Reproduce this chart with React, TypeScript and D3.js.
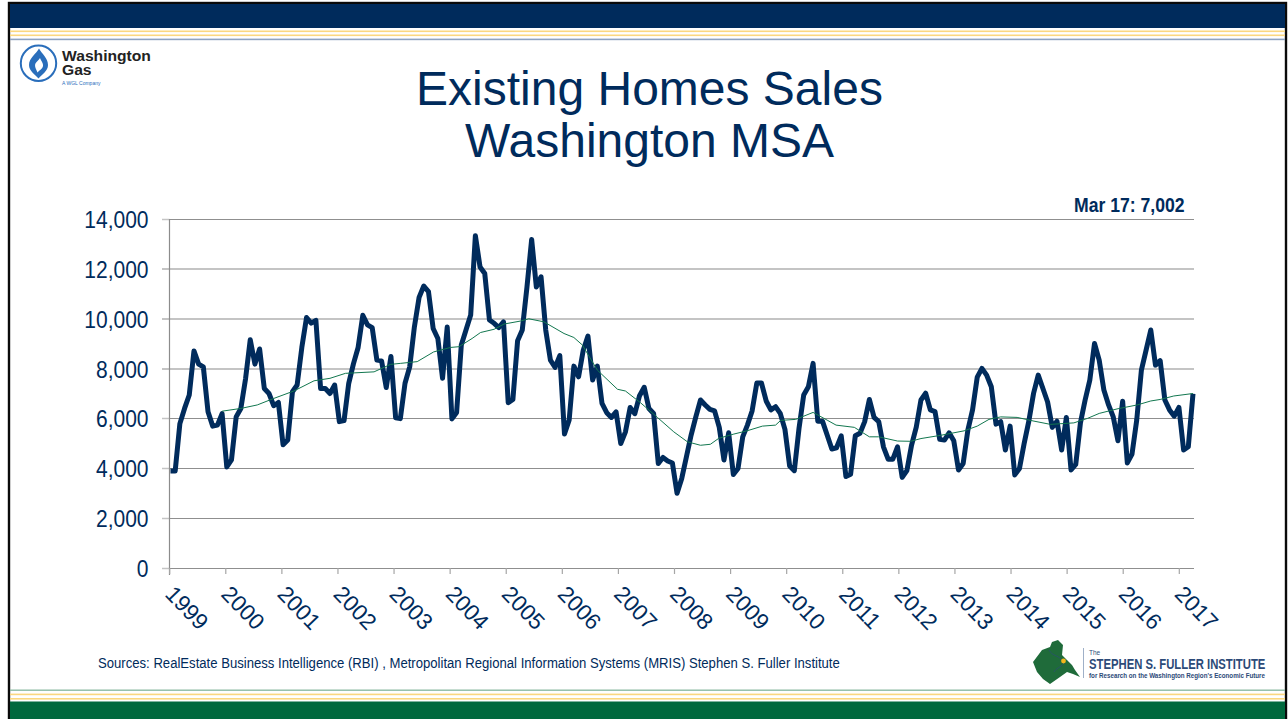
import React from "react";
import * as d3 from "d3";

const salesValues = [
  3900, 3900, 5800, 6410, 6950, 8720, 8190, 8080, 6280, 5700, 5740, 6200,
  4060, 4340, 6070, 6410, 7600, 9170, 8190, 8800, 7210, 7010, 6520, 6650,
  4950, 5140, 7080, 7350, 8860, 10060, 9840, 9950, 7210, 7210, 7010, 7350,
  5880, 5920, 7420, 8200, 8860, 10150, 9770, 9660, 8350, 8320, 7250, 8500,
  6030, 6000, 7420, 8080, 9690, 10870, 11330, 11100, 9620, 9220, 7620, 9680,
  5990, 6250, 8960, 9560, 10160, 13350, 12090, 11830, 9960, 9830, 9660, 9890,
  6640, 6770, 9130, 9560, 11290, 13200, 11290, 11700, 9560, 8350, 8060, 8530,
  5380, 5950, 8110, 7680, 8750, 9320, 7550, 8110, 6610, 6240, 6050, 6270,
  5000, 5470, 6450, 6200, 6920, 7260, 6410, 6210, 4200, 4440, 4300, 4220,
  3000, 3600, 4470, 5340, 6070, 6750, 6550, 6370, 6310, 5650, 4340, 5430,
  3760, 4000, 5270, 5740, 6310, 7430, 7430, 6710, 6350, 6480, 6210, 5570,
  4100, 3910, 5610, 6950, 7280, 8220, 5900, 5900, 5340, 4780, 4830, 5310,
  3680, 3770, 5310, 5410, 5880, 6770, 6050, 5880, 4870, 4370, 4370, 4870,
  3640, 3910, 4940, 5660, 6750, 7020, 6350, 6280, 5170, 5140, 5430, 5110,
  3940, 4200, 5540, 6350, 7670, 8020, 7750, 7280, 5780, 5880, 4740, 5700,
  3740, 4000, 5000, 5900, 7010, 7750, 7210, 6670, 5650, 5900, 4740, 6050,
  3940, 4160, 5830, 6750, 7550, 9020, 8350, 7150, 6550, 6070, 5110, 6700,
  4220, 4580, 5940, 7950, 8750, 9560, 8150, 8330, 6750, 6350, 6100, 6450,
  4740, 4870, 7002,
];

const trendMonths = [
  11, 15, 18.5, 22, 26.3, 30.6, 34, 37.3, 43.4, 46.9, 49, 52.6, 56.1, 59.7, 61.5, 64.3,
  66.1, 69, 71.1, 74.6, 76.4, 79.6, 83.9, 86, 87.8, 91, 95.3, 97, 100.2, 103.8, 107.3,
  110.2, 113, 115.1, 116.9, 120.1, 122.9, 126.2, 129, 130.1, 133.3, 137, 140, 141.9,
  145.8, 149, 151, 155, 157.8, 160, 164.2, 169.2, 172, 174.5, 177, 180.5, 184.1, 187.6,
  192.6, 195.5, 198, 201.8, 206.1, 209, 211, 213.9, 218,
];
const trendValues = [
  6300, 6410, 6550, 6810, 7110, 7520, 7620, 7820, 7880, 8180, 8220, 8290, 8680, 8860, 8890, 9220,
  9460, 9590, 9800, 9920, 10010, 9890, 9420, 9260, 8960, 7950, 7180, 7110, 6640, 6050, 5470,
  5070, 4930, 4970, 5210, 5380, 5510, 5700, 5740, 5930, 5970, 6250, 5940, 5740,
  5650, 5270, 5270, 5100, 5090, 5200, 5330, 5510, 5700, 5970, 6070, 6050, 5900, 5770,
  5830, 6010, 6210, 6390, 6550, 6710, 6770, 6910, 7010,
];

const yTicks = [0, 2000, 4000, 6000, 8000, 10000, 12000, 14000];
const lightGridTicks = [8000, 10000, 12000];
const yearLabels = d3.range(1999, 2018).map(String);
const titleLines = ["Existing Homes Sales", "Washington MSA"];
const annotation = "Mar 17: 7,002";
const sourceText = "Sources: RealEstate Business Intelligence (RBI) , Metropolitan Regional Information Systems (MRIS) Stephen S. Fuller Institute";

const NAVY = "#002b5c";
const GREEN = "#00693e";
const FONT = "'Liberation Sans', Arial, sans-serif";
const SQUEEZE = 0.875;

const squeezed = (x: number, y: number, k = SQUEEZE) => `translate(${x},${y}) scale(${k},1)`;

export default function App() {
  const x = d3.scaleLinear().domain([0, 218]).range([170.5, 1193]);
  const y = d3.scaleLinear().domain([0, 14000]).range([568, 219.5]);
  const tickX = d3.scaleLinear().domain([0, 18]).range([169.7, 1179.3]);
  const salesLine = d3.line<number>().x((_, i) => x(i)).y((d) => y(d)).curve(d3.curveLinear);
  const trendLine = d3
    .line<number>()
    .x((_, i) => x(trendMonths[i]))
    .y((d) => y(d));

  return (
    <svg
      width={1288}
      height={719}
      viewBox="0 0 1288 719"
      style={{ position: "fixed", left: 0, top: 0, background: "#fff", display: "block" }}
    >
      <rect x={0} y={0} width={1288} height={719} fill="#fff" />
      {/* slide frame */}
      <rect x={9} y={3} width={1277} height={720} fill="#fff" stroke="#0a0a0a" strokeWidth={2.4} />
      <rect x={10} y={4} width={1275} height={24} fill={NAVY} />
      <rect x={10} y={30.5} width={1275} height={1.6} fill="#fbd77f" />
      <rect x={10} y={34.5} width={1275} height={1.6} fill="#fbd77f" />
      <rect x={10} y={38.6} width={1275} height={1.6} fill="#8fa3c0" />

      <rect x={10} y={689.5} width={1275} height={1.4} fill="#8dbba3" />
      <rect x={10} y={693.6} width={1275} height={1.6} fill="#fbd77f" />
      <rect x={10} y={698} width={1275} height={1.6} fill="#fbd77f" />
      <rect x={10} y={701.5} width={1275} height={18} fill={GREEN} />

      {/* Washington Gas logo */}
      <circle cx={38.5} cy={63.3} r={17.7} fill="#fff" stroke="#2a6ebb" strokeWidth={2} />
      <path d="M39 48.5 C42 54 48 58 48 65 C48 71 42 74.5 38.5 78.5 C35 74.5 29 71 29 65 C29 58 36 54 39 48.5 Z" fill="#2a6ebb" />
      <path d="M40 58 C41 61 43.5 63 43 66 C42.5 69 39.5 70 37.5 72.5 C36 69 34.5 67 35.2 64 C36 62 39 60 40 58 Z" fill="#fff" />
      <text transform={squeezed(62, 60.7, 1.01)} fontFamily={FONT} fontSize={15.5} fontWeight={700} fill="#222">Washington</text>
      <text transform={squeezed(62, 75.3, 1.01)} fontFamily={FONT} fontSize={15.5} fontWeight={700} fill="#222">Gas</text>
      <text x={62} y={85} fontFamily={FONT} fontSize={5} fill="#2a6ebb">A WGL Company</text>

      {/* title */}
      {titleLines.map((t, i) => (
        <text key={t} x={649.5} y={105 + i * 52} textAnchor="middle" fontFamily={FONT} fontSize={48} fill={NAVY}>
          {t}
        </text>
      ))}

      <text transform={squeezed(1184.5, 212, 0.88)} textAnchor="end" fontFamily={FONT} fontWeight={700} fontSize={20} fill={NAVY}>
        {annotation}
      </text>

      {/* grid */}
      {yTicks.map((t) => {
        const light = lightGridTicks.includes(t);
        const gy = light ? Math.round(y(t)) : Math.floor(y(t)) + 0.5;
        return (
          <g key={t}>
            <line x1={162} x2={169.5} y1={gy} y2={gy} stroke="#c4c4c4" strokeWidth={light ? 2 : 1.5} />
            <line x1={169.5} x2={1194} y1={gy} y2={gy} stroke={light ? "#c4c4c4" : "#8f8f8f"} strokeWidth={light ? 2 : 1} />
            <text transform={squeezed(148.5, y(t) + 8.7)} textAnchor="end" fontFamily={FONT} fontSize={24} fill={NAVY}>
              {d3.format(",")(t)}
            </text>
          </g>
        );
      })}
      <line x1={169.5} x2={169.5} y1={219} y2={575} stroke="#8c8c8c" strokeWidth={1.2} />
      {yearLabels.map((label, i) => {
        const tx = tickX(i);
        return (
          <g key={label}>
            <line x1={tx} x2={tx} y1={568} y2={574} stroke="#a6a6a6" strokeWidth={1.2} />
            <text
              transform={`translate(${tx + 17.5},${607.5}) rotate(46)`}
              textAnchor="middle"
              dy="0.36em"
              fontFamily={FONT}
              fontSize={22.5}
              fill={NAVY}
            >
              {label}
            </text>
          </g>
        );
      })}

      {/* series */}
      <path d={salesLine(salesValues) ?? ""} fill="none" stroke={NAVY} strokeWidth={5} strokeLinejoin="round" />
      <path d={trendLine(trendValues) ?? ""} fill="none" stroke="#12774f" strokeWidth={1} />

      {/* source */}
      <text transform={squeezed(98, 668)} fontFamily={FONT} fontSize={15} fill={NAVY}>
        {sourceText}
      </text>

      {/* Fuller Institute logo */}
      <path
        d="M1033 662 L1042 650 L1050 647 L1052 642 L1058 640 L1063 645 L1062 655 L1067 660 L1072 665 L1075 670 L1080 677 L1073 674 L1067 672 L1060 677 L1050 684 L1043 679 L1037 672 Z"
        fill="#1f6b3a"
      />
      <path d="M1049 650 C1052 656 1058 655 1062 660 M1064 663 C1060 668 1056 668 1054 672" fill="none" stroke="#2c4a78" strokeWidth={0.7} />
      <circle cx={1063.5} cy={661} r={2.4} fill="#f3b71b" />
      <line x1={1083.5} x2={1083.5} y1={648} y2={678} stroke="#9fb0c8" strokeWidth={1} />
      <text x={1089} y={655} fontFamily={FONT} fontSize={6.5} fill="#2c4a78">The</text>
      <text transform={squeezed(1089, 669, 0.73)} fontFamily={FONT} fontWeight={700} fontSize={15.5} fill="#2c4a78">
        STEPHEN S. FULLER INSTITUTE
      </text>
      <text transform={squeezed(1089, 677.7, 0.96)} fontFamily={FONT} fontSize={6.5} fontWeight={700} fill="#2c4a78">
        for Research on the Washington Region's Economic Future
      </text>
    </svg>
  );
}
